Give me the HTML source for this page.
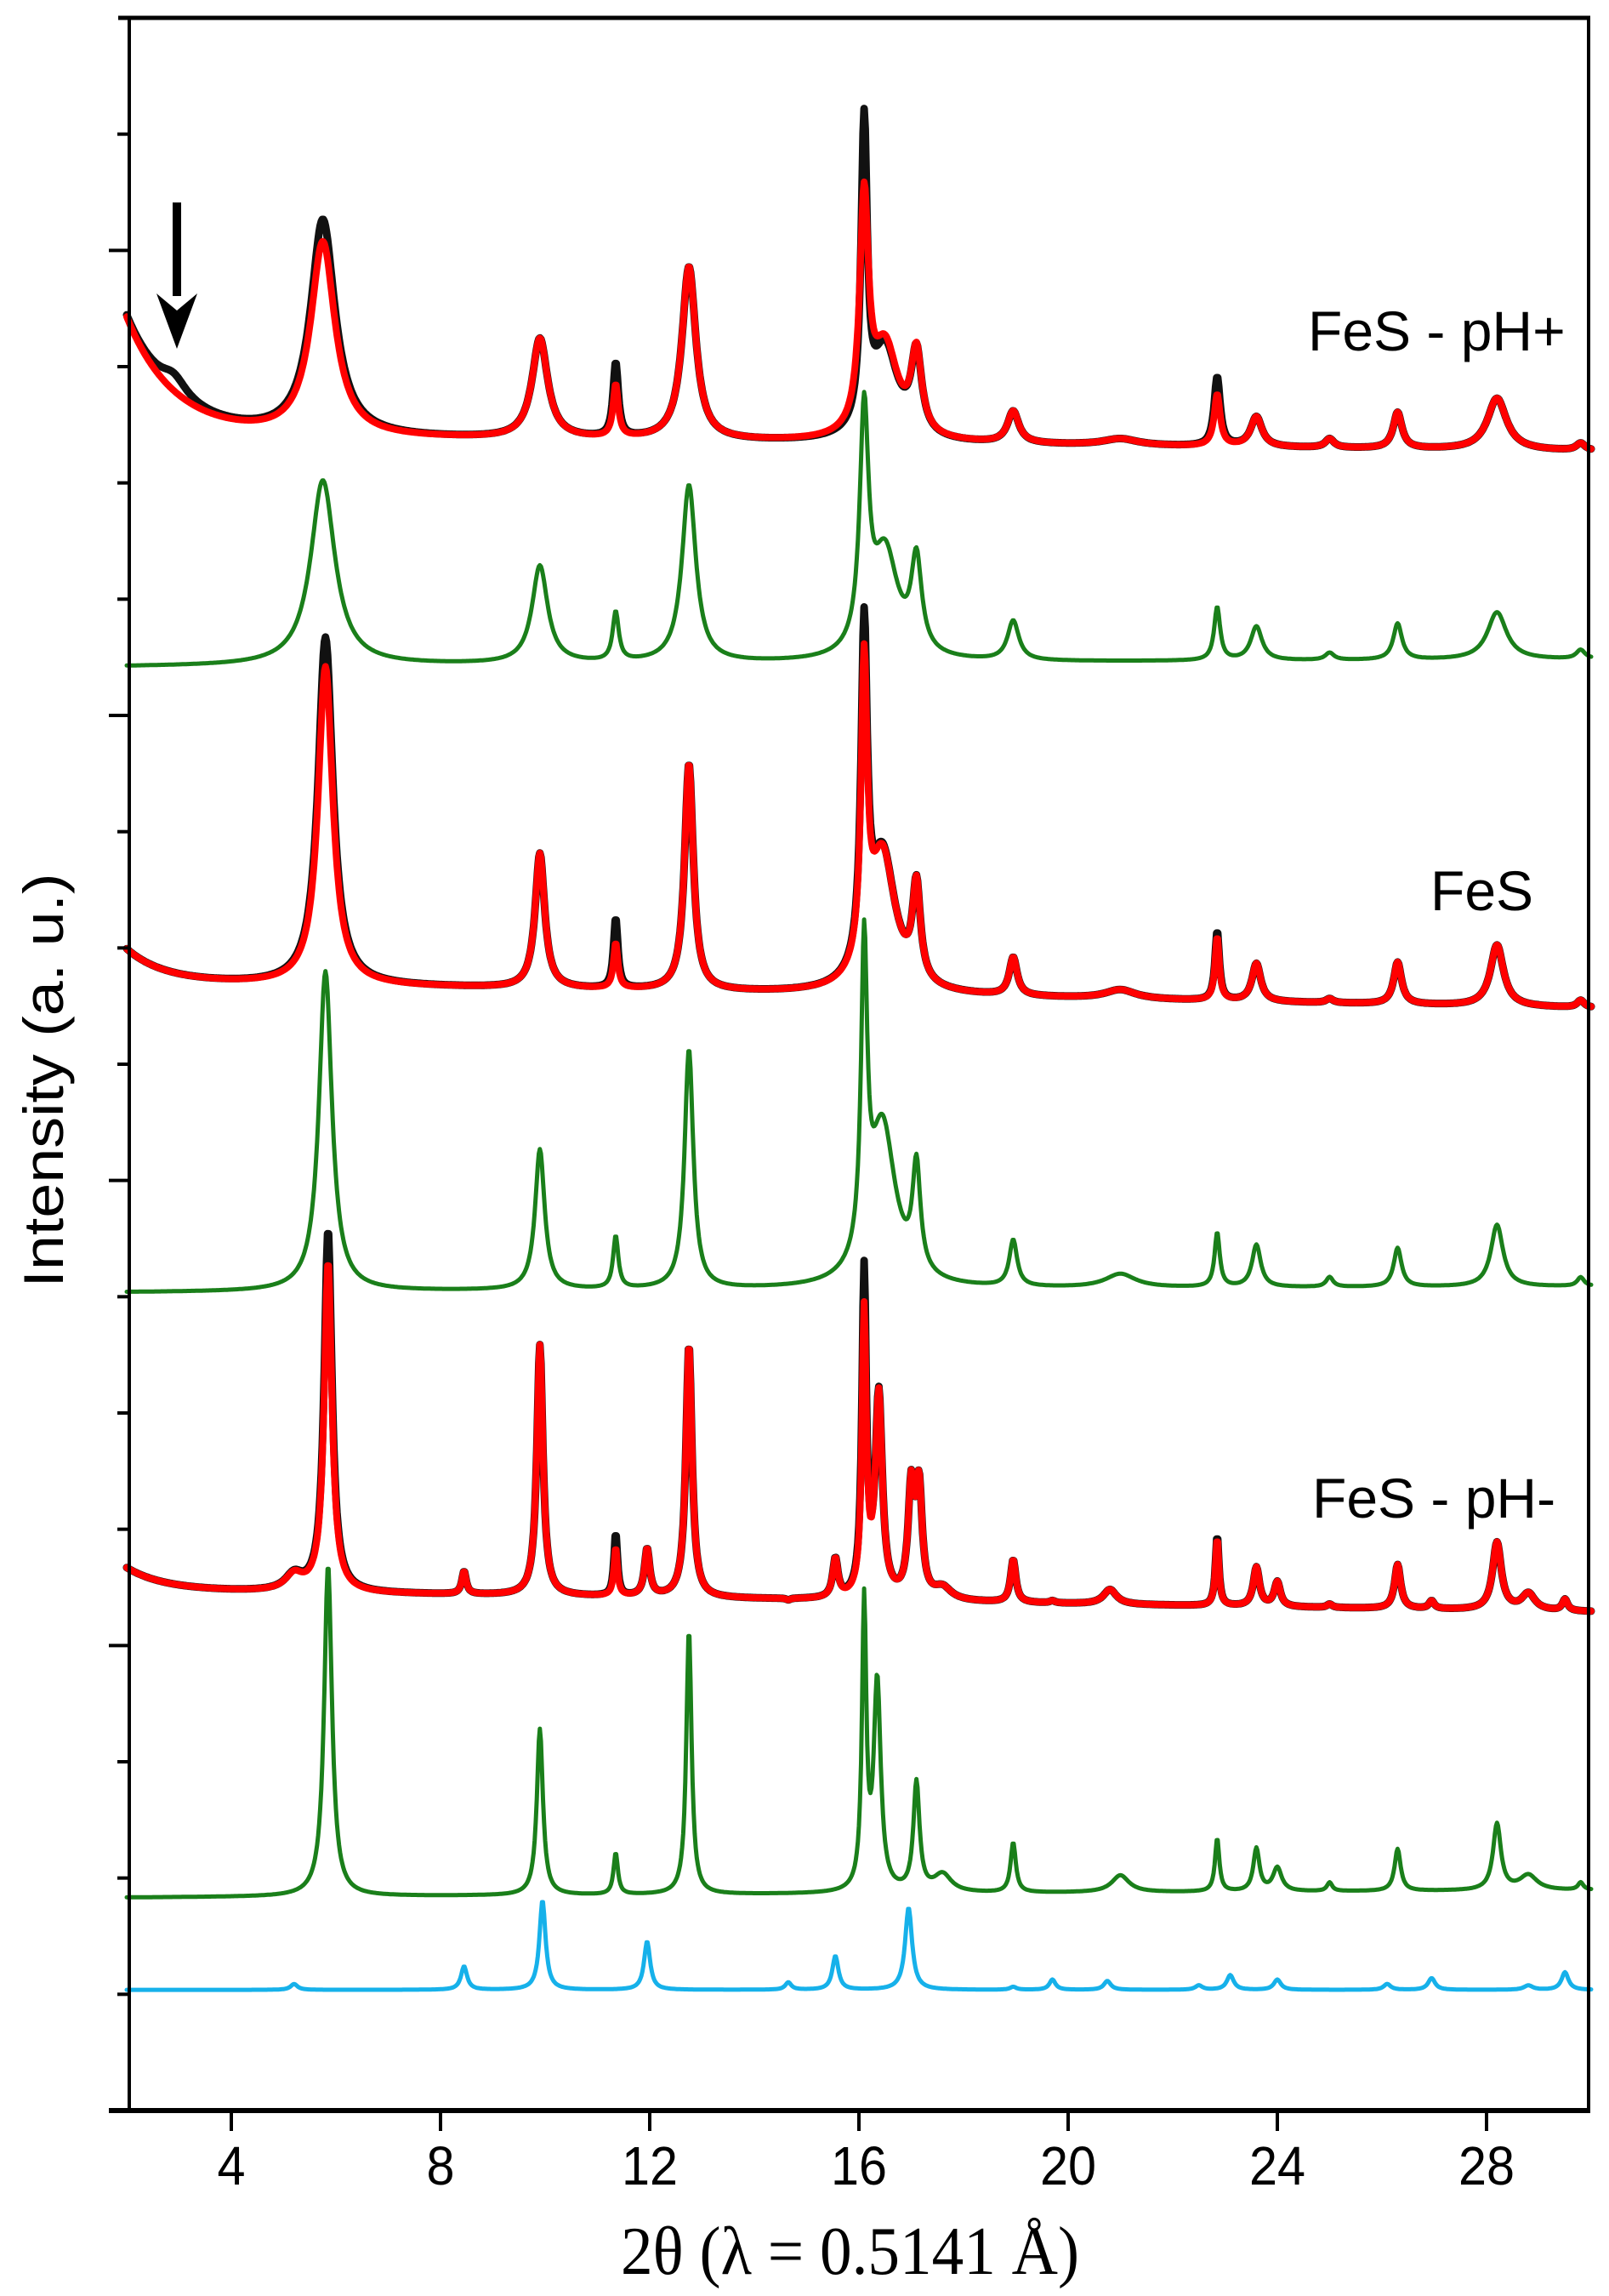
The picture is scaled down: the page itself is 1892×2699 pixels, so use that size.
<!DOCTYPE html>
<html><head><meta charset="utf-8"><style>
html,body{margin:0;padding:0;background:#fff}
svg{display:block}
</style></head><body>
<svg id="s" width="1892" height="2699" viewBox="0 0 1892 2699" xmlns="http://www.w3.org/2000/svg">
<rect width="1892" height="2699" fill="#fff"/>
<g id="curves" fill="none" stroke-linejoin="round" stroke-linecap="round"></g>
<g stroke="#000" fill="none">
<line x1="152" y1="21" x2="152" y2="2483" stroke-width="4"/>
<line x1="1868" y1="21" x2="1868" y2="2483" stroke-width="4"/>
<line x1="139" y1="21" x2="1870" y2="21" stroke-width="5"/>
<line x1="128" y1="2481" x2="1870" y2="2481" stroke-width="6"/>
<g id="ticks" stroke-width="4"></g>
</g>
<rect x="203" y="238" width="10" height="110" fill="#000"/>
<polygon points="184,345 208,410 232,345 208,365" fill="#000"/>
<g font-family="Liberation Sans, Arial, sans-serif" fill="#000">
<text x="1538" y="412" font-size="66">FeS - pH+</text>
<text x="1682" y="1070" font-size="66">FeS</text>
<text x="1543" y="1784" font-size="66">FeS - pH-</text>
<text transform="translate(74,1270) rotate(-90)" text-anchor="middle" font-size="66" textLength="487" lengthAdjust="spacingAndGlyphs">Intensity (a. u.)</text>
<g id="xl" font-size="64"></g>
</g>
<text x="730" y="2673" font-family="Liberation Serif, Times New Roman, serif" font-size="80" textLength="539" lengthAdjust="spacingAndGlyphs">2θ (λ = 0.5141 Å)</text>
</svg>
<script>
const NS="http://www.w3.org/2000/svg";
const K=1.7225;
const X=t=>149+61.5*(t-2);
function series(base,peaks){
  let d="";
  for(let t=2;t<=30.0001;t+=0.02){
    let y=base(t);
    for(const [c,top,w] of peaks){
      const h=base(c)-top;
      y-=h*w*w/((t-c)*(t-c)+w*w);
    }
    d+=(d?"L":"M")+X(t).toFixed(1)+","+(y*K).toFixed(1);
  }
  return d;
}
function add(d,col,w){
  const p=document.createElementNS(NS,"path");
  p.setAttribute("d",d);p.setAttribute("stroke",col);p.setAttribute("stroke-width",w);
  document.getElementById("curves").appendChild(p);
}
function ov(list,o){return list.map(p=>{const k=o[p[0]];return k?[p[0],k[0],k[1]??p[2]]:p;});}
const b1=t=>297+11*(t-2)/28-80*Math.exp(-(t-2)/0.9);
const r1=[[5.75,165,0.28],[9.9,232,0.18],[11.35,265,0.06],[12.75,183,0.16],[16.1,148,0.1],[16.5,240,0.3],[17.1,248,0.12],[18.95,282,0.13],[21,300,0.4],[22.85,270,0.07],[23.6,285,0.13],[25,300,0.1],[26.3,282,0.1],[28.2,272,0.22],[29.8,303,0.1]];
const k1=ov(r1,{5.75:[150],11.35:[250],16.1:[98,0.07],22.85:[258]}).concat([[2.9,256,0.3]]);
const bg1=t=>455-5*(t-2)/28;
const g1=[[5.75,328,0.28],[9.9,387,0.18],[11.35,420,0.07],[12.75,332,0.16],[16.1,295,0.1],[16.5,380,0.3],[17.1,390,0.12],[18.95,425,0.13],[22.85,415,0.07],[23.6,428,0.13],[25,446,0.1],[26.3,426,0.1],[28.2,418,0.22],[29.8,444,0.1]];
const b2=t=>670+18*(t-2)/28-22*Math.exp(-(t-2)/0.7);
const r2=[[5.8,455,0.17],[9.9,583,0.11],[11.35,645,0.05],[12.75,522,0.1],[16.1,480,0.07],[16.45,585,0.3],[17.1,615,0.09],[18.95,655,0.09],[21,676,0.35],[22.85,640,0.05],[23.6,658,0.1],[25,682,0.08],[26.3,657,0.09],[28.2,645,0.15],[29.8,683,0.08]];
const k2=ov(r2,{5.8:[435],11.35:[628],16.1:[455],22.85:[636]});
const bg2=t=>882-4*(t-2)/28;
const g2=[[5.8,663,0.15],[9.9,785,0.11],[11.35,845,0.06],[12.75,717,0.1],[16.1,675,0.07],[16.45,770,0.3],[17.1,808,0.09],[18.95,848,0.09],[21,870,0.35],[22.85,842,0.06],[23.6,850,0.1],[25,872,0.08],[26.3,852,0.09],[28.2,836,0.14],[29.8,872,0.08]];
const b3=t=>1085+15*(t-2)/28-15*Math.exp(-(t-2)/0.7);
const r3=[[5.2,1076,0.2],[5.85,862,0.09],[8.45,1073,0.05],[9.9,918,0.07],[11.35,1057,0.04],[11.95,1058,0.06],[12.75,918,0.07],[14.65,1093,0.05],[15.55,1066,0.06],[16.1,900,0.05],[16.38,955,0.08],[17.0,1020,0.07],[17.15,1020,0.07],[17.6,1085,0.2],[18.95,1065,0.06],[19.7,1093,0.06],[20.8,1085,0.15],[22.85,1050,0.04],[23.6,1070,0.07],[24,1080,0.07],[25,1095,0.06],[26.3,1068,0.07],[26.95,1093,0.06],[28.2,1053,0.1],[28.8,1088,0.15],[29.5,1092,0.06]];
const k3=ov(r3,{5.85:[840],11.35:[1047],16.1:[872],22.85:[1048]});
const bg3=t=>1295-5*(t-2)/28;
const g3=[[5.85,1068,0.09],[9.9,1180,0.07],[11.35,1265,0.05],[12.75,1112,0.06],[16.1,1098,0.05],[16.35,1150,0.08],[17.1,1218,0.07],[17.6,1280,0.2],[18.95,1258,0.06],[21,1280,0.2],[22.85,1255,0.05],[23.6,1262,0.07],[24,1275,0.1],[25,1285,0.06],[26.3,1262,0.07],[28.2,1245,0.09],[28.8,1280,0.2],[29.8,1285,0.06]];
const bb=t=>1358;
const bl=[[5.2,1354,0.08],[8.45,1342,0.07],[9.95,1297,0.07],[11.95,1325,0.07],[14.65,1353,0.07],[15.55,1335,0.07],[16.95,1302,0.08],[18.95,1356,0.07],[19.7,1351,0.07],[20.75,1352,0.08],[22.5,1355,0.08],[23.1,1348,0.08],[24,1351,0.08],[26.1,1354,0.08],[26.95,1350,0.08],[28.8,1355,0.1],[29.5,1346,0.08]];
add(series(bg1,g1),"#1a7f1a",5);
add(series(bg2,g2),"#1a7f1a",5);
add(series(bg3,g3),"#1a7f1a",5);
add(series(bb,bl),"#16b1ea",5);
add(series(b1,k1),"#111",9);add(series(b1,r1),"#ff0000",8);
add(series(b2,k2),"#111",9);add(series(b2,r2),"#ff0000",8);
add(series(b3,k3),"#111",9);add(series(b3,r3),"#ff0000",8);
const tg=document.getElementById("ticks");
for(let k=1;k<=17;k++){
  const y=21+k*(2460/18);const maj=(k%4===2);
  const l=document.createElementNS(NS,"line");
  l.setAttribute("x1",maj?128:138);l.setAttribute("x2",152);l.setAttribute("y1",y);l.setAttribute("y2",y);
  tg.appendChild(l);
}
const xl=document.getElementById("xl");
for(let v=4;v<=28;v+=4){
  const x=X(v);
  const l=document.createElementNS(NS,"line");
  l.setAttribute("x1",x);l.setAttribute("x2",x);l.setAttribute("y1",2481);l.setAttribute("y2",2505);
  tg.appendChild(l);
  const t=document.createElementNS(NS,"text");
  t.setAttribute("x",x);t.setAttribute("y",2568);t.setAttribute("text-anchor","middle");
  t.setAttribute("textLength",v>=10?"66":"33");t.setAttribute("lengthAdjust","spacingAndGlyphs");
  t.textContent=v;xl.appendChild(t);
}
</script>
</body></html>
